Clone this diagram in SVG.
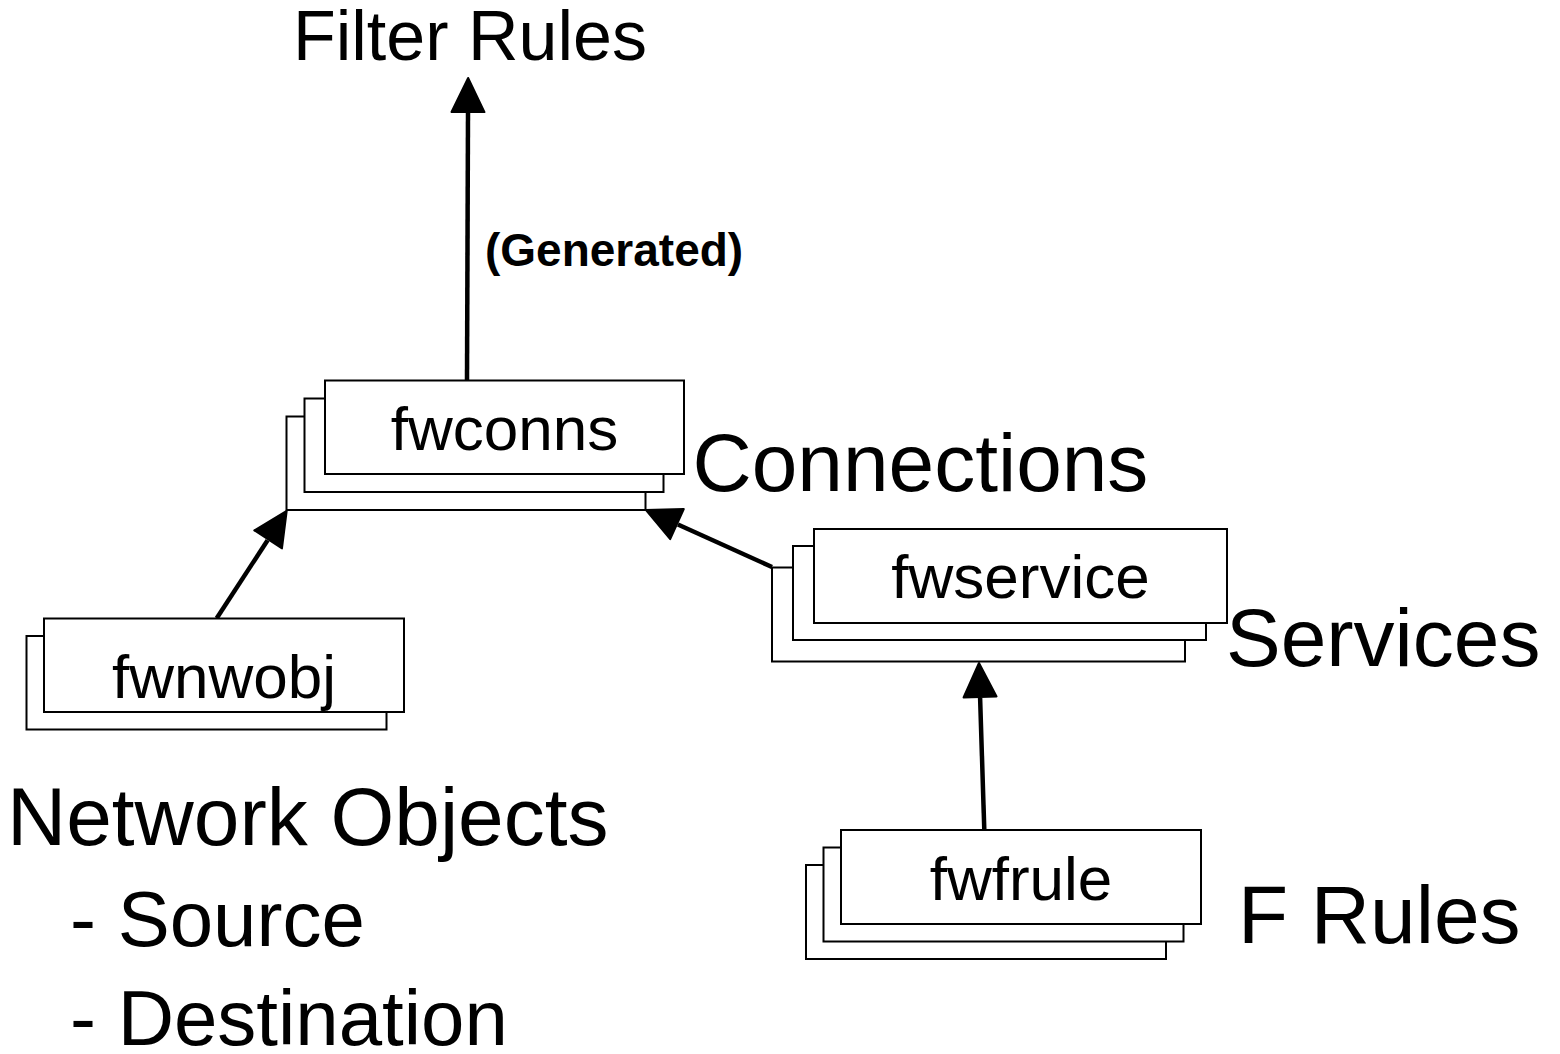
<svg xmlns="http://www.w3.org/2000/svg" width="1560" height="1054" viewBox="0 0 1560 1054">
  <style>
    .card { fill: #ffffff; stroke: #000000; stroke-width: 2; }
    .label { font-family: "Liberation Sans", Arial, Helvetica, sans-serif; font-size: 62px; fill: #000000; text-anchor: middle; }
    .title { font-family: "Liberation Sans", Arial, Helvetica, sans-serif; font-size: 82px; fill: #000000; }
    .item { font-family: "Liberation Sans", Arial, Helvetica, sans-serif; font-size: 78px; fill: #000000; }
    .note { font-family: "Liberation Sans", Arial, Helvetica, sans-serif; font-size: 46px; font-weight: bold; fill: #000000; }
    .link { fill: none; stroke: #000000; stroke-width: 4.5; marker-end: url(#head); }
  </style>
  <defs>
    <marker id="head" markerUnits="userSpaceOnUse" markerWidth="40" markerHeight="40" refX="0" refY="0" orient="auto" overflow="visible">
      <path d="M1,-16.5 L35,0 L1,16.5 Z" fill="#000000" stroke="#000000" stroke-width="2" stroke-linejoin="round"/>
    </marker>
  </defs>

  <rect width="1560" height="1054" fill="#ffffff"/>

  <!-- connectors -->
  <g id="connectors">
    <path class="link" d="M467,380.5 L468,113"/>
    <path class="link" d="M216.7,618.3 L267.6,540.2"/>
    <path class="link" d="M772,567 L677.9,524.5"/>
    <path class="link" d="M984.3,830 L980.1,698"/>
  </g>

  <!-- connections table stack -->
  <g id="fwconns">
    <rect class="card" x="286.5" y="416.5" width="359" height="93.5"/>
    <rect class="card" x="304.5" y="398.5" width="359" height="93.5"/>
    <rect class="card" x="325" y="380.5" width="359" height="93.5"/>
    <text class="label" x="504.5" y="450">fwconns</text>
  </g>

  <!-- network object table stack -->
  <g id="fwnwobj">
    <rect class="card" x="26.5" y="636" width="360" height="93.5"/>
    <rect class="card" x="44" y="618.5" width="360" height="93.5"/>
    <text class="label" x="224" y="698">fwnwobj</text>
  </g>

  <!-- service table stack -->
  <g id="fwservice">
    <rect class="card" x="772" y="567.5" width="413" height="94"/>
    <rect class="card" x="793" y="546" width="413" height="94"/>
    <rect class="card" x="814" y="529" width="413" height="94"/>
    <text class="label" x="1020.5" y="598">fwservice</text>
  </g>

  <!-- rule table stack -->
  <g id="fwfrule">
    <rect class="card" x="806" y="865" width="360" height="94"/>
    <rect class="card" x="823.5" y="847.5" width="360" height="94"/>
    <rect class="card" x="841" y="830" width="360" height="94"/>
    <text class="label" x="1021" y="900">fwfrule</text>
  </g>

  <!-- captions -->
  <g id="captions">
    <text class="title" x="293" y="60" style="font-size:70px">Filter Rules</text>
    <text class="note" x="485" y="266">(Generated)</text>
    <text class="title" x="692.5" y="491">Connections</text>
    <text class="title" x="1226" y="666">Services</text>
    <text class="title" x="1238" y="943">F Rules</text>
    <text class="title" x="7" y="845">Network Objects</text>
    <text class="item" x="70" y="946">- Source</text>
    <text class="item" x="70" y="1045">- Destination</text>
  </g>
</svg>
